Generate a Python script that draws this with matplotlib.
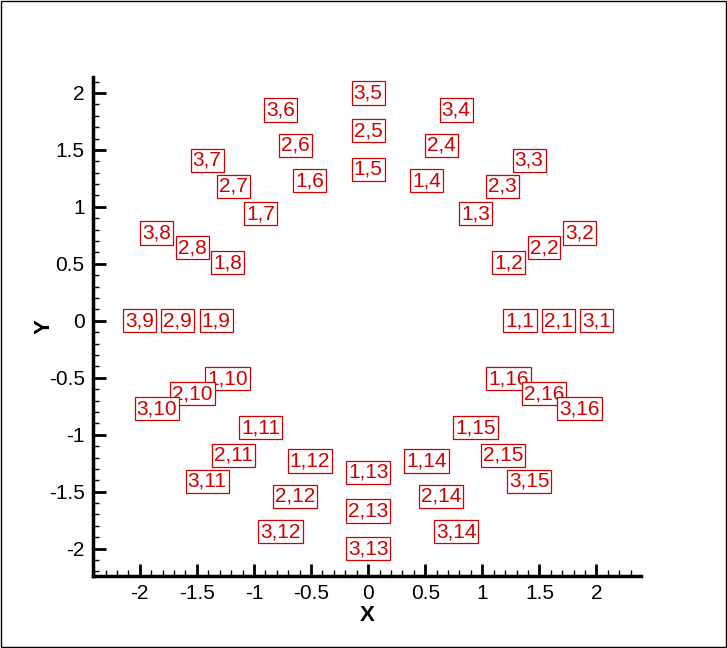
import matplotlib.pyplot as plt
from matplotlib.patches import Rectangle
from matplotlib.ticker import MultipleLocator

plt.rcParams['font.family'] = ['Liberation Sans', 'DejaVu Sans']

# label positions, ring i = 1..3, point j = 1..16
x1 = [1.33, 1.23, 0.94, 0.51, 0.00, -0.51, -0.94, -1.23, -1.33, -1.23, -0.94, -0.51, 0.00, 0.51, 0.94, 1.23]
y1 = [0.00, 0.51, 0.94, 1.23, 1.33, 1.23, 0.94, 0.51, 0.00, -0.51, -0.94, -1.23, -1.33, -1.23, -0.94, -0.51]
x2 = [1.67, 1.54, 1.18, 0.64, 0.00, -0.64, -1.18, -1.54, -1.67, -1.54, -1.18, -0.64, 0.00, 0.64, 1.18, 1.54]
y2 = [0.00, 0.64, 1.18, 1.54, 1.67, 1.54, 1.18, 0.64, 0.00, -0.64, -1.18, -1.54, -1.67, -1.54, -1.18, -0.64]
x3 = [2.00, 1.85, 1.41, 0.77, 0.00, -0.77, -1.41, -1.85, -2.00, -1.85, -1.41, -0.77, 0.00, 0.77, 1.41, 1.85]
y3 = [0.00, 0.77, 1.41, 1.85, 2.00, 1.85, 1.41, 0.77, 0.00, -0.77, -1.41, -1.85, -2.00, -1.85, -1.41, -0.77]
rings = [(1, x1, y1), (2, x2, y2), (3, x3, y3)]

fig = plt.figure(figsize=(7.27, 6.48), dpi=100)
ax = fig.add_axes([93/727, 1-576/648, (641-93)/727, (576-77)/648])

red = '#d00000'
for i, xs, ys in rings:
    for j, (x, y) in enumerate(zip(xs, ys), start=1):
        ax.text(x, y, f'{i},{j}', ha='center', va='center', fontsize=15, color=red,
                bbox=dict(boxstyle='square,pad=0.1', fc='white', ec=red, lw=0.9))

ax.set_xlim(-2.41, 2.39)
ax.set_ylim(-2.24, 2.14)
ax.xaxis.set_major_locator(MultipleLocator(0.5))
ax.yaxis.set_major_locator(MultipleLocator(0.5))
ax.xaxis.set_minor_locator(MultipleLocator(0.1))
ax.yaxis.set_minor_locator(MultipleLocator(0.1))
ax.xaxis.set_major_formatter(plt.FuncFormatter(lambda v, p: f'{v:g}'))
ax.yaxis.set_major_formatter(plt.FuncFormatter(lambda v, p: f'{v:g}'))
ax.tick_params(which='major', direction='in', length=9, width=2, labelsize=15, pad=6)
ax.tick_params(which='minor', direction='in', length=4.5, width=1)
for s in ['top', 'right']:
    ax.spines[s].set_visible(False)
for s in ['left', 'bottom']:
    ax.spines[s].set_linewidth(2.5)

ax.set_xlabel('X', fontsize=16, fontweight='bold')
ax.set_ylabel('Y', fontsize=16, fontweight='bold')
ax.xaxis.set_label_coords(0.5, -0.058)
ax.yaxis.set_label_coords(-0.07, 0.5)

fig.patches.append(Rectangle((0.001, 0.001), 0.997, 0.997, transform=fig.transFigure,
                             fill=False, ec='black', lw=1))

plt.savefig('out.png', dpi=100)
